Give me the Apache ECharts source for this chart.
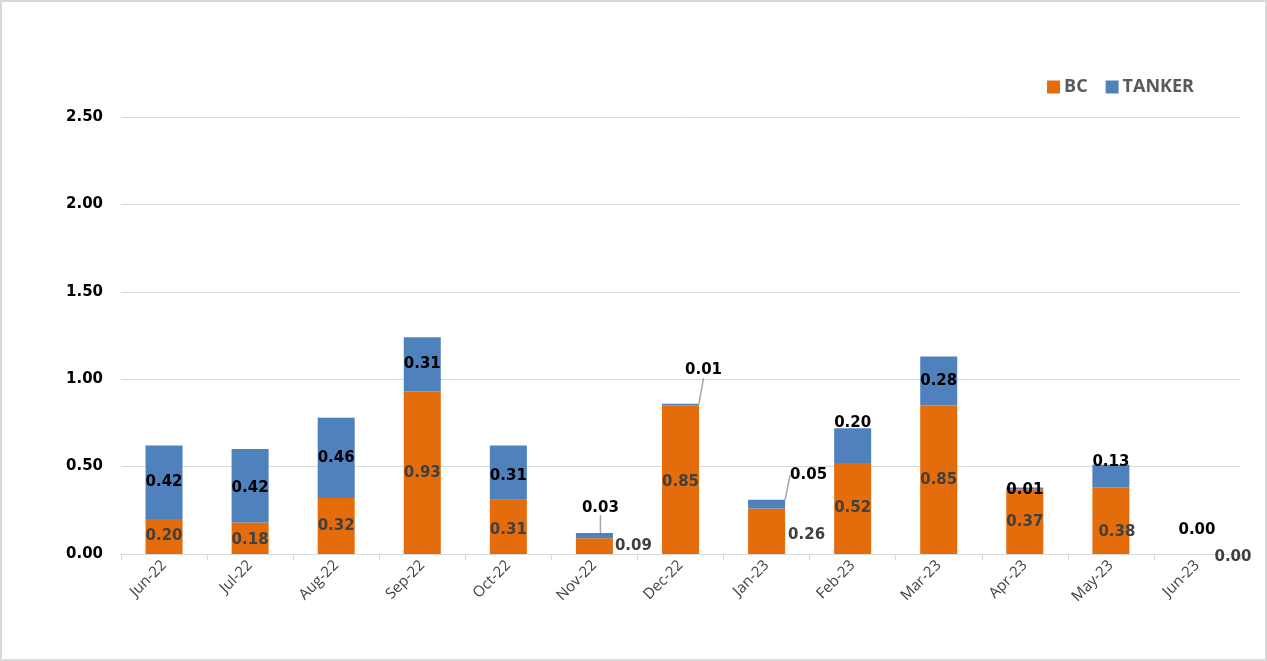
<!DOCTYPE html>
<html>
<head>
<meta charset="utf-8">
<script src="https://cdn.jsdelivr.net/npm/echarts@6/dist/echarts.min.js"></script>
<style>
html,body{margin:0;padding:0;background:#fff;}
#chart{width:1267px;height:661px;}
#frame{position:absolute;left:0;top:0;width:1267px;height:661px;box-sizing:border-box;border:2px solid #d9d9d9;pointer-events:none;}
</style>
</head>
<body>
<div id="chart"></div>
<div id="frame"></div>
<script>
const categories = ['Jun-22','Jul-22','Aug-22','Sep-22','Oct-22','Nov-22','Dec-22','Jan-23','Feb-23','Mar-23','Apr-23','May-23','Jun-23'];
const bcValues = [0.20, 0.18, 0.32, 0.93, 0.31, 0.09, 0.85, 0.26, 0.52, 0.85, 0.37, 0.38, 0.00];
const tankerValues = [0.42, 0.42, 0.46, 0.31, 0.31, 0.03, 0.01, 0.05, 0.20, 0.28, 0.01, 0.13, 0.00];
const yMin = 0, yMax = 2.5, yInterval = 0.5;

// label nudges (style only), keyed by category index
const bcLabelShift = {1:[0,2], 4:[0,3], 5:[39,0], 6:[0,2], 7:[40,4], 11:[6,11], 12:[36,3]};
const tankerLabelShift = {1:[0,2], 4:[0,3], 5:[6,-28], 6:[23,-34], 7:[42,-29], 8:[0,-23], 10:[0,2], 11:[0,-14], 12:[0,-24]};
const tankerLeader = [5, 6, 7];

const numFont = 'DejaVu Sans';

function layoutFrom(shift){
  return function(params){
    const s = shift[params.dataIndex];
    return s ? {dx: s[0], dy: s[1]} : {};
  };
}

const chart = echarts.init(document.getElementById('chart'), null, {renderer:'canvas'});
chart.setOption({
  animation: false,
  backgroundColor: '#ffffff',
  legend: {
    right: 68, top: 73,
    itemWidth: 13, itemHeight: 13, itemGap: 18,
    icon: 'rect',
    textStyle: {fontFamily: 'Open Sans', fontWeight: 'bold', fontSize: 18, color: '#595959', padding: [0,0,0,-1]},
    data: ['BC', 'TANKER']
  },
  grid: {left: 121, right: 27, top: 117, bottom: 107, containLabel: false},
  xAxis: {
    type: 'category',
    data: categories,
    axisLine: {lineStyle: {color: '#d9d9d9', width: 1}},
    axisTick: {show: true, length: 6, lineStyle: {color: '#d9d9d9'}},
    axisLabel: {rotate: 45, interval: 0, margin: 9, fontFamily: 'Open Sans', fontSize: 15, color: '#404040'}
  },
  yAxis: {
    type: 'value',
    min: yMin, max: yMax, interval: yInterval,
    axisLine: {show: false},
    axisTick: {show: false},
    splitLine: {lineStyle: {color: '#d9d9d9', width: 1}},
    axisLabel: {margin: 18, fontFamily: numFont, fontWeight: 'bold', fontSize: 15, color: '#000',
      formatter: v => v.toFixed(2)}
  },
  series: [
    {
      name: 'BC', type: 'bar', stack: 'total', barWidth: '43%',
      itemStyle: {color: '#E46C0A'},
      label: {show: true, position: 'inside', fontFamily: numFont, fontWeight: 'bold', fontSize: 15, color: '#404040',
        formatter: p => p.value.toFixed(2)},
      labelLayout: layoutFrom(bcLabelShift),
      data: bcValues.map(v => ({value: v}))
    },
    {
      name: 'TANKER', type: 'bar', stack: 'total', barWidth: '43%',
      itemStyle: {color: '#4F81BD'},
      label: {show: true, position: 'inside', fontFamily: numFont, fontWeight: 'bold', fontSize: 15, color: '#000',
        formatter: p => p.value.toFixed(2)},
      labelLine: {show: false, lineStyle: {color: '#a6a6a6', width: 1.5}},
      labelLayout: layoutFrom(tankerLabelShift),
      data: tankerValues.map((v, i) => tankerLeader.indexOf(i) >= 0
        ? {value: v, labelLine: {show: true, lineStyle: {color: '#a6a6a6', width: 1.5}}}
        : {value: v})
    }
  ]
});
</script>
</body>
</html>
